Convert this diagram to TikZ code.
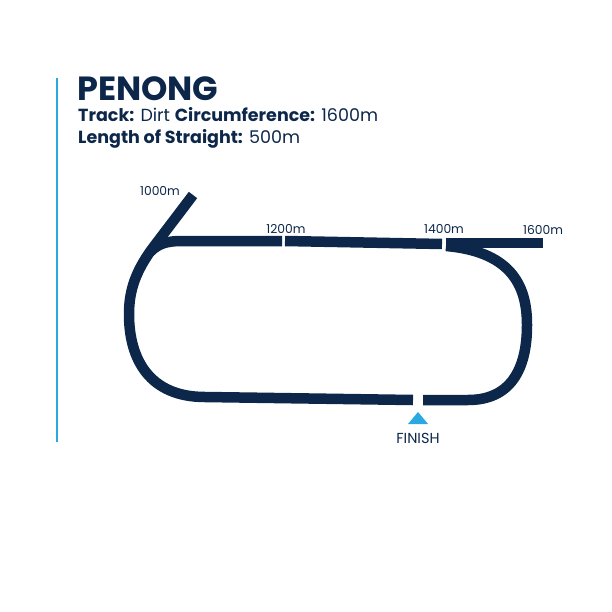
\documentclass[tikz,border=0pt]{standalone}
\usepackage{fontspec}
\setmainfont{Poppins}
\definecolor{navy}{HTML}{0C2749}
\definecolor{sky}{HTML}{29A9E0}
\begin{document}
\begin{tikzpicture}[x=1pt,y=-1pt,
  track/.style={draw=navy,line width=10.5pt,line cap=butt,line join=round},
  dist/.style={text=navy,font=\fontsize{12.3}{14}\selectfont,inner sep=0pt}]
\useasboundingbox (0,0) rectangle (612,612);
% left accent line
\draw[sky,line width=2pt] (57,78) -- (57,442);
% title
\node[anchor=base west,inner sep=0pt,text=navy,font=\fontsize{33.5}{38}\selectfont\bfseries] (title) at (77,101) {PENONG};
\node[anchor=base west,inner sep=0pt,text=navy,font=\fontsize{17.5}{20}\selectfont] (l1) at (78,122) {\textbf{Track:} Dirt \textbf{Circumference:} 1600m};
\node[anchor=base west,inner sep=0pt,text=navy,font=\fontsize{17.5}{20}\selectfont] (l2) at (78,144) {\textbf{Length of Straight:} 500m};
% chute and left turn, bottom straight to finish
\draw[track] (193,195) -- (152,249) .. controls (136,271) and (129,290) .. (129,314)
  .. controls (129,360) and (150,397) .. (205,397) -- (413,400);
% top straight join
\draw[track] (282,241) -- (182,241) .. controls (166,241) and (158,244) .. (150,252);
% top straight middle
\draw[track] (285,241) -- (442,244);
% 1600 straight
\draw[track] (446,243) -- (543,243);
% right turn
\draw[track] (446,246) .. controls (515,252) and (527,290) .. (527,325)
  .. controls (527,370) and (510,400) .. (468,400) -- (423,400);
% labels
\node[dist] (d1000) at (160,191) {1000m};
\node[dist] (d1200) at (286,229) {1200m};
\node[dist] (d1400) at (444,229) {1400m};
\node[dist] (d1600) at (543,230) {1600m};
\fill[sky] (408,424) -- (418,412) -- (428,424) -- cycle;
\node[text=navy,inner sep=0pt,font=\fontsize{14.5}{16}\selectfont] (fin) at (418,438) {FINISH};
\end{tikzpicture}
\end{document}
